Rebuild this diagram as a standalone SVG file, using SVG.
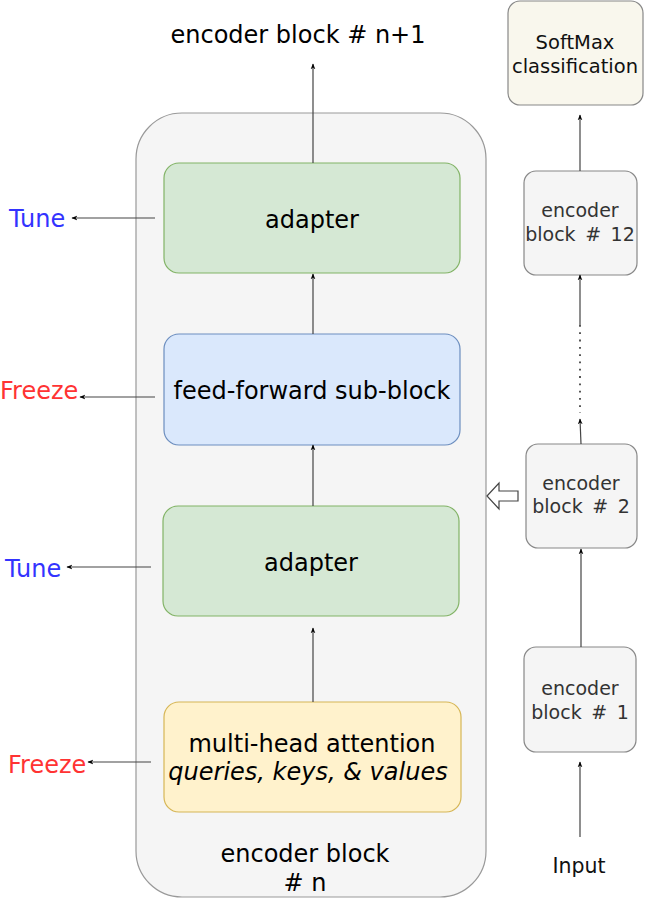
<svg xmlns="http://www.w3.org/2000/svg" width="645" height="901" viewBox="0 0 645 901">
<defs>
<marker id="ah" viewBox="0 0 10 10" refX="9" refY="5" markerWidth="6" markerHeight="6" orient="auto" markerUnits="userSpaceOnUse">
<path d="M0,1 L10,5 L0,9 L3,5 Z" fill="#000"/>
</marker>
<style>
text{font-family:"DejaVu Sans","Liberation Sans",sans-serif;text-anchor:middle;fill:#000}
.big{font-size:24px}
.sm{font-size:19px;fill:#333}
.ws{word-spacing:3.5px}
.tune{fill:#3333ff;font-size:24px;text-anchor:start}
.frz{fill:#ff3333;font-size:24px;text-anchor:start}
.ln{stroke:#444;stroke-width:1.2;fill:none;marker-end:url(#ah)}
.blk{fill:#f5f5f5;stroke:#888;stroke-width:1.2}
</style>
</defs>
<rect width="645" height="901" fill="#fff"/>

<g id="outer">
<rect x="136" y="113" width="350" height="784" rx="46" ry="46" fill="#f5f5f5" stroke="#999" stroke-width="1.2"/>
<text class="big" x="305" y="862">encoder block</text>
<text class="big" x="305" y="891"># n</text>
</g>

<g id="title">
<text class="big" x="298" y="43">encoder block # n+1</text>
</g>

<g id="adapter1">
<rect x="164" y="163" width="296" height="110" rx="15" fill="#d5e8d4" stroke="#82b366" stroke-width="1.2"/>
<text class="big" x="312" y="228">adapter</text>
</g>

<g id="ff">
<rect x="164" y="334" width="296" height="111" rx="15" fill="#dae8fc" stroke="#6c8ebf" stroke-width="1.2"/>
<text class="big" x="312" y="399">feed-forward sub-block</text>
</g>

<g id="adapter2">
<rect x="163" y="506" width="296" height="110" rx="15" fill="#d5e8d4" stroke="#82b366" stroke-width="1.2"/>
<text class="big" x="311" y="571">adapter</text>
</g>

<g id="mha">
<rect x="164" y="702" width="297" height="110" rx="15" fill="#fff2cc" stroke="#d6b656" stroke-width="1.2"/>
<text class="big" x="312" y="752">multi-head attention</text>
<text class="big" x="308" y="780" font-style="italic">queries, keys, &amp; values</text>
</g>

<g id="labels">
<text class="tune" x="9" y="227">Tune</text>
<text class="frz" x="0" y="399">Freeze</text>
<text class="tune" x="5" y="577">Tune</text>
<text class="frz" x="8" y="773">Freeze</text>
</g>

<g id="softmax">
<rect x="508" y="1" width="135" height="104" rx="12" fill="#f9f7ed" stroke="#888" stroke-width="1.2"/>
<text class="sm" x="575" y="49" style="fill:#111;font-size:19.5px">SoftMax</text>
<text class="sm" x="575" y="73" style="fill:#111;font-size:19.5px">classification</text>
</g>

<g id="enc12">
<rect x="524" y="171" width="113" height="104" rx="12" class="blk"/>
<text class="sm" x="580" y="217">encoder</text>
<text class="sm ws" x="580" y="241">block # 12</text>
</g>

<g id="enc2">
<rect x="526" y="444" width="111" height="104" rx="12" class="blk"/>
<text class="sm" x="581" y="490">encoder</text>
<text class="sm ws" x="581" y="513">block # 2</text>
</g>

<g id="enc1">
<rect x="524" y="647" width="112" height="105" rx="12" class="blk"/>
<text class="sm" x="580" y="695">encoder</text>
<text class="sm ws" x="580" y="719">block # 1</text>
</g>

<g id="input">
<text class="sm" x="579" y="873" style="fill:#111;font-size:20.5px">Input</text>
</g>

<g id="connectors">
<line class="ln" x1="313" y1="163" x2="313" y2="64"/>
<line class="ln" x1="313" y1="334" x2="313" y2="274"/>
<line class="ln" x1="313" y1="506" x2="313" y2="445"/>
<line class="ln" x1="313" y1="702" x2="313" y2="628"/>
<line class="ln" x1="155" y1="218" x2="72" y2="218"/>
<line class="ln" x1="155" y1="397" x2="80" y2="397"/>
<line class="ln" x1="151" y1="567" x2="67" y2="567"/>
<line class="ln" x1="151" y1="762" x2="88" y2="762"/>
<line class="ln" x1="580" y1="171" x2="580" y2="115"/>
<line class="ln" x1="580" y1="325" x2="580" y2="275"/>
<line x1="580" y1="325" x2="580" y2="413" stroke="#444" stroke-width="1.8" stroke-dasharray="1.8 5.5"/>
<line class="ln" x1="581" y1="444" x2="580" y2="419"/>
<line class="ln" x1="581" y1="647" x2="581" y2="549"/>
<line class="ln" x1="580" y1="837" x2="580" y2="762"/>
<path d="M487,496 L499,483 L499,491 L518,491 L518,501 L499,501 L499,509 Z" fill="#fff" stroke="#444" stroke-width="1.2"/>
</g>
</svg>
